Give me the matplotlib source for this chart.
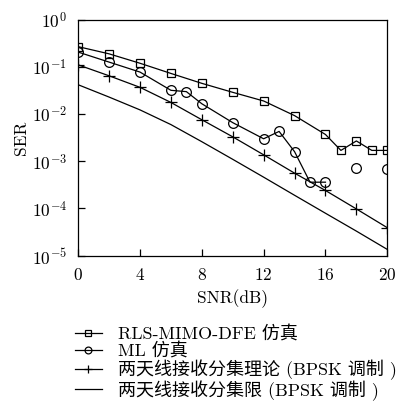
import matplotlib
matplotlib.use("Agg")
import matplotlib.pyplot as plt
import numpy as np

plt.rcParams['font.family'] = ['cmr10', 'Noto Sans CJK SC', 'DejaVu Sans']
plt.rcParams['mathtext.fontset'] = 'cm'
plt.rcParams['axes.formatter.use_mathtext'] = True

# RLS-MIMO-DFE simulation
snr_dfe = [0, 2, 4, 6, 8, 10, 12, 14, 16, 17, 18, 19, 20]
ser_dfe = [0.27, 0.19, 0.12, 0.073, 0.045, 0.029, 0.019, 0.0093, 0.0037,
           0.0017, 0.0027, 0.0017, 0.0017]

# ML simulation (no errors counted at 17 and 19 dB)
snr_ml = [0, 2, 4, 6, 7, 8, 10, 12, 13, 14, 15, 16, 17, 18, 19, 20]
ser_ml = [0.207, 0.127, 0.078, 0.032, 0.030, 0.0166, 0.0066, 0.003, 0.0043,
          0.0016, 0.00036, 0.00036, np.nan, 0.00072, np.nan, 0.00069]

# two-antenna diversity, theory and bound
snr_th = [0, 2, 4, 6, 8, 10, 12, 14, 16, 18, 20]
ser_th = [0.111, 0.065, 0.037, 0.0177, 0.0076, 0.0033, 0.00137, 0.00056,
          0.00024, 9.75e-5, 3.9e-5]
ser_bd = [0.042, 0.023, 0.0123, 0.006, 0.0026, 0.0011, 0.00046, 0.00019,
          7.9e-5, 3.3e-5, 1.35e-5]

labels = ['RLS-MIMO-DFE 仿真', 'ML 仿真',
          '两天线接收分集理论 (BPSK 调制 )', '两天线接收分集限 (BPSK 调制 )']

fig = plt.figure(figsize=(4.03, 4.05), dpi=100)
ax = fig.add_axes([0.194, 0.369, 0.767, 0.582])

lw = 0.9
h1, = ax.semilogy(snr_dfe, ser_dfe, 'k-', marker='s', ms=5.5, mfc='none', mew=0.9, lw=lw)
h2, = ax.semilogy(snr_ml, ser_ml, 'k-', marker='o', ms=7, mfc='none', mew=0.9, lw=lw)
h3, = ax.semilogy(snr_th, ser_th, 'k-', marker='+', ms=8, mew=0.9, lw=lw)
h4, = ax.semilogy(snr_th, ser_bd, 'k-', lw=lw)

ax.set_xlim(0, 20)
ax.set_ylim(1e-5, 1)
ax.set_xticks([0, 4, 8, 12, 16, 20])
ax.set_yticks([1e0, 1e-1, 1e-2, 1e-3, 1e-4, 1e-5])
ax.minorticks_off()
ax.tick_params(direction='in', length=5, width=0.9, labelsize=12.5, pad=8)
for s in ax.spines.values():
    s.set_linewidth(0.9)

ax.set_xlabel('SNR(dB)', fontsize=12.5, labelpad=5)
ax.set_ylabel('SER', fontsize=12.5, labelpad=2)

fig.legend([h1, h2, h3, h4], labels, loc='upper left',
           bbox_to_anchor=(0.185, 0.196), frameon=False, fontsize=13,
           handlelength=1.5, handletextpad=0.9, labelspacing=0.0,
           borderaxespad=0, borderpad=0, markerscale=0.7)

fig.savefig('out.png', dpi=100)
